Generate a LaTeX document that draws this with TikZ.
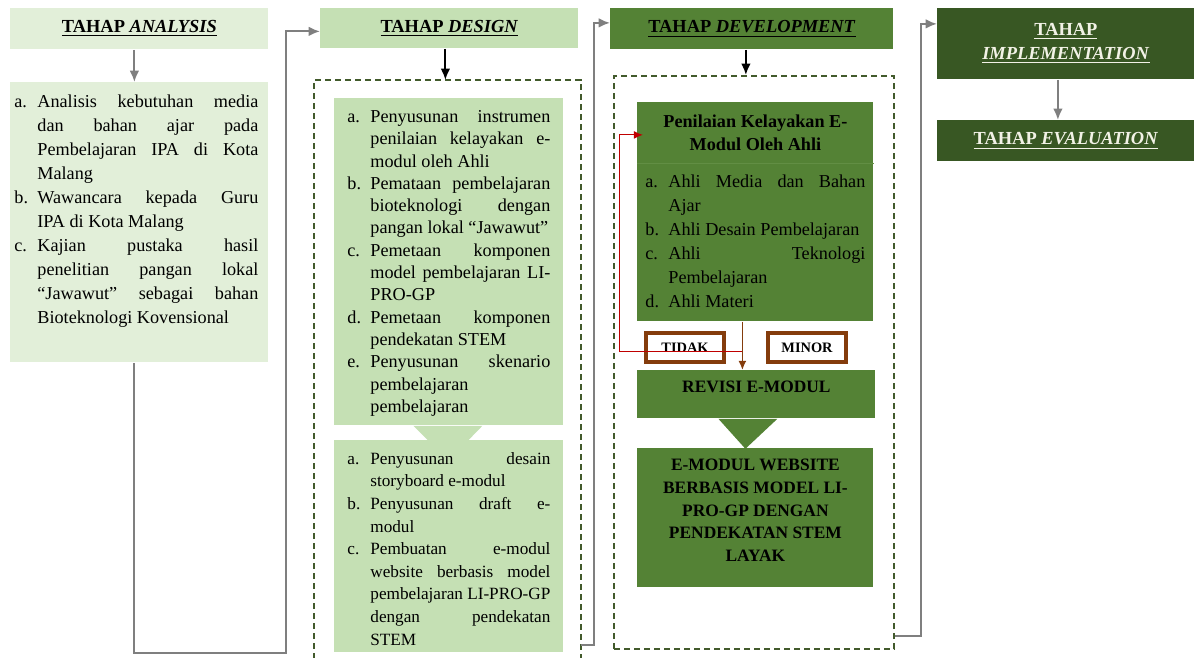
\documentclass[tikz,border=0pt]{standalone}
\usepackage{fontspec}
\setmainfont{Liberation Serif}
\usepackage{xcolor}
\usepackage{tikz}
\usetikzlibrary{arrows.meta,calc,positioning}
\definecolor{linegrey}{RGB}{127,127,127}
\definecolor{anafill}{RGB}{226,239,217}
\definecolor{dsgfill}{RGB}{197,224,180}
\definecolor{devfill}{RGB}{84,130,53}
\definecolor{devseam}{RGB}{98,142,68}
\definecolor{implfill}{RGB}{56,87,35}
\definecolor{dashgreen}{RGB}{66,90,44}
\definecolor{answerbrown}{RGB}{132,60,12}
\definecolor{loopred}{RGB}{192,0,0}
\definecolor{paletext}{RGB}{242,242,230}
\newcommand{\stagelist}[3]{\parbox[c][#2][t]{#1}{\fontsize{9.1}{12}\selectfont
  \hyphenpenalty=10000 \tolerance=10000 \hbadness=10000 #3}}
\newcommand{\itm}[2]{\par\hangindent=11.5pt\hangafter=1\noindent
  \makebox[11.5pt][l]{#1}#2}
\tikzset{
  headbox/.style={anchor=north west,inner sep=0pt,align=center,
    font=\fontsize{9.2}{12}\selectfont\bfseries},
  listbox/.style={anchor=north west,inner xsep=4pt,inner ysep=6pt},
  devbox/.style={anchor=north west,fill=devfill,inner sep=0pt,align=center,
    minimum width=118pt,font=\fontsize{8.7}{11.3}\selectfont\bfseries},
  answer/.style={anchor=north west,draw=answerbrown,line width=2pt,fill=white,
    minimum width=39pt,minimum height=14.5pt,inner sep=0pt,
    font=\fontsize{7.2}{9}\selectfont\bfseries},
  dashbox/.style={draw=dashgreen,line width=1.1pt,dash pattern=on 3pt off 2pt},
  flow/.style={-{Latex[length=2mm,width=1.7mm]},line width=1pt,draw=linegrey},
  blackflow/.style={-{Latex[length=2mm,width=1.7mm]},line width=1pt,draw=black},
  brownflow/.style={-{Latex[length=1.6mm,width=1.4mm]},line width=0.8pt,
    draw=answerbrown},
  redflow/.style={-{Latex[length=1.6mm,width=1.4mm]},line width=0.6pt,
    draw=loopred}
}
\begin{document}
\begin{tikzpicture}[x=0.5pt,y=-0.5pt]
  \useasboundingbox (0,0) rectangle (1194,658);
  % analysis
  \node[headbox,fill=anafill,minimum width=129pt,minimum height=20.5pt]
    (anahead) at (10,8) {\underline{TAHAP \textit{ANALYSIS}}};
  \node[listbox,fill=anafill,inner xsep=3.5pt] (anabody) at (10,82)
    {\hspace*{-1.5pt}\stagelist{122pt}{128pt}{%
      \itm{a.}{Analisis kebutuhan media\linebreak dan bahan ajar pada\linebreak
        Pembelajaran IPA di Kota\linebreak Malang}
      \itm{b.}{Wawancara kepada Guru\linebreak IPA di Kota Malang}
      \itm{c.}{Kajian pustaka hasil\linebreak penelitian pangan lokal\linebreak
        “Jawawut” sebagai bahan\linebreak Bioteknologi Kovensional}}\hspace*{1.5pt}};
  % design
  \node[headbox,fill=dsgfill,minimum width=129pt,minimum height=20pt]
    (dsghead) at (320,8) {\underline{TAHAP \textit{DESIGN}}};
  \node[anchor=north west,minimum width=133pt,minimum height=289pt,inner sep=0pt]
    (dsgwrap) at (314,80) {};
  \draw[dashbox] (dsgwrap.south west) |- (dsgwrap.north) -| (dsgwrap.south east);
  \node[listbox,fill=dsgfill,inner xsep=6.5pt] (dsgone) at (334,98)
    {\stagelist{101.5pt}{151.5pt}{\fontsize{9.1}{11.15}\selectfont
      \itm{a.}{Penyusunan instrumen\linebreak penilaian kelayakan e-\linebreak
        modul oleh Ahli}
      \itm{b.}{Pemataan pembelajaran\linebreak bioteknologi dengan\linebreak
        pangan lokal “Jawawut”}
      \itm{c.}{Pemetaan komponen\linebreak model pembelajaran LI-\linebreak PRO-GP}
      \itm{d.}{Pemetaan komponen\linebreak pendekatan STEM}
      \itm{e.}{Penyusunan skenario\linebreak pembelajaran\linebreak pembelajaran}}};
  \fill[dsgfill] ([xshift=-17.75pt]dsgone.south) -- ([xshift=16.75pt]dsgone.south)
    -- ([xshift=-0.25pt,yshift=-17.5pt]dsgone.south) -- cycle;
  \node[listbox,fill=dsgfill,inner xsep=6.5pt] (dsgtwo) at (334,440)
    {\stagelist{101.5pt}{94pt}{\fontsize{8.6}{11.3}\selectfont
      \itm{a.}{Penyusunan desain\linebreak storyboard e-modul}
      \itm{b.}{Penyusunan draft e-\linebreak modul}
      \itm{c.}{Pembuatan e-modul\linebreak website berbasis model\linebreak
        pembelajaran LI-PRO-GP\linebreak dengan pendekatan\linebreak STEM}}};
  % development
  \node[headbox,fill=devfill,minimum width=141.5pt,minimum height=20.5pt]
    (devhead) at (610,8) {\underline{TAHAP \textit{DEVELOPMENT}}};
  \node[dashbox,anchor=north west,minimum width=140pt,minimum height=286.5pt,
    inner sep=0pt] (devwrap) at (613,75) {};
  \node[devbox,minimum height=30.5pt,font=\fontsize{9.1}{11.5}\selectfont\bfseries]
    (ptitle) at (637,102) {Penilaian Kelayakan E-\\Modul Oleh Ahli};
  \node[listbox,fill=devfill,below=-0.5pt of ptitle] (plist)
    {\stagelist{110pt}{67pt}{%
      \itm{a.}{Ahli Media dan Bahan\linebreak Ajar}
      \itm{b.}{Ahli Desain Pembelajaran}
      \itm{c.}{Ahli Teknologi\linebreak Pembelajaran}
      \itm{d.}{Ahli Materi}}};
  \draw[devseam,line width=0.4pt] (ptitle.south west) -- (ptitle.south east);
  \node[answer] (tidak) at (644,331) {TIDAK};
  \node[answer] (minor) at (766,331) {MINOR};
  \node[devbox,minimum width=119pt,text height=6.5pt,text depth=8.5pt,
    inner ysep=4.5pt] (revisi) at (637,370) {REVISI E-MODUL};
  \fill[devfill] ([xshift=-19pt]revisi.south) -- ([xshift=10.5pt]revisi.south)
    -- ([xshift=-5.5pt,yshift=-15pt]revisi.south) -- cycle;
  \node[devbox,inner ysep=5.5pt] (emodul) at (637,448)
    {\parbox[c][58.5pt][t]{118pt}{\centering
      E-MODUL WEBSITE\\BERBASIS MODEL LI-\\PRO-GP DENGAN\\PENDEKATAN STEM\\LAYAK}};
  % implementation and evaluation
  \node[headbox,fill=implfill,text=paletext,minimum width=128.5pt,
    minimum height=35.5pt] (implhead) at (937,8)
    {\underline{TAHAP}\\\underline{\textit{IMPLEMENTATION}}};
  \node[headbox,fill=implfill,text=paletext,minimum width=128.5pt,
    minimum height=20.5pt] (evalhead) at (937,120)
    {\underline{TAHAP \textit{EVALUATION}}};
  % connectors
  \coordinate (anaturn) at (286,653);
  \coordinate (dsgturn) at (594,645);
  \coordinate (devturn) at (921,636);
  \draw[flow] ([xshift=-2.5pt]anahead.south) -- ([xshift=-2.5pt]anabody.north);
  \draw[flow] ([xshift=-2.5pt]anabody.south) |- (anaturn)
    |- ([yshift=-1.5pt]dsghead.west);
  \draw[flow] (dsgwrap.east |- dsgturn) -- (dsgturn) |- ([yshift=3pt]devhead.west);
  \draw[flow] (devwrap.east |- devturn) -- (devturn)
    |- ([yshift=10pt]implhead.west);
  \draw[flow] ([xshift=-4pt]implhead.south) -- ([xshift=-4pt]evalhead.north);
  \draw[blackflow] ([xshift=-2pt]dsghead.south) -- ([xshift=-2pt]dsghead.south |- dsgwrap.north);
  \draw[blackflow] ([xshift=-3pt]devhead.south) -- ([xshift=-3pt]devhead.south |- devwrap.north);
  \draw[brownflow] ([xshift=-6.5pt]plist.south) -- ([xshift=-6.5pt]plist.south |- revisi.north);
  \draw[redflow] ([xshift=-6.5pt,yshift=-15pt]plist.south) -- ++(-61.5pt,0)
    |- ([xshift=3pt,yshift=-1pt]ptitle.west);
\end{tikzpicture}
\end{document}
